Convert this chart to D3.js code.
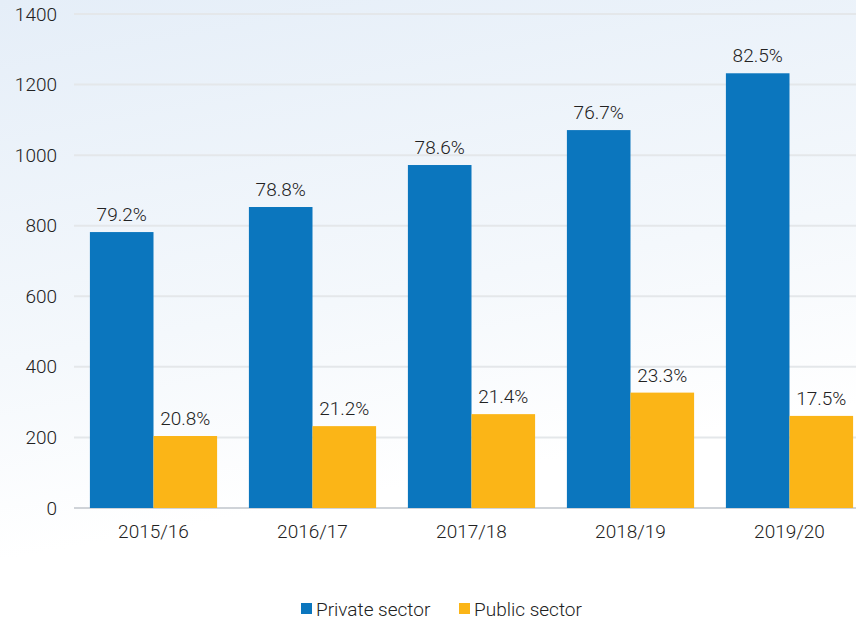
<!DOCTYPE html>
<html>
<head>
<meta charset="utf-8">
<script src="https://cdn.jsdelivr.net/npm/d3@7"></script>
<style>
  body { margin: 0; background: #fff; }
  svg { display: block; font-family: Roboto, "Open Sans", sans-serif; font-weight: 300; }
</style>
</head>
<body>
<svg width="856" height="621"></svg>
<script>
const years = ["2015/16", "2016/17", "2017/18", "2018/19", "2019/20"];
const privateSector = [782, 853, 972, 1071, 1232];
const publicSector = [204, 232, 266, 327, 261];
const privateShare = ["79.2%", "78.8%", "78.6%", "76.7%", "82.5%"];
const publicShare = ["20.8%", "21.2%", "21.4%", "23.3%", "17.5%"];
const yTicks = [0, 200, 400, 600, 800, 1000, 1200, 1400];
const seriesNames = ["Private sector", "Public sector"];

const colors = ["#0b76be", "#fbb517"];
const fontSize = 19;
const textColor = "#222";

const svg = d3.select("svg");
const width = 856, height = 621;

// background gradient
const defs = svg.append("defs");
const grad = defs.append("linearGradient")
  .attr("id", "bg")
  .attr("x1", "0").attr("y1", "0").attr("x2", "0.25").attr("y2", "1");
grad.append("stop").attr("offset", "0%").attr("stop-color", "#e5eef8");
grad.append("stop").attr("offset", "55%").attr("stop-color", "#f4f8fc");
grad.append("stop").attr("offset", "85%").attr("stop-color", "#ffffff");
svg.append("rect").attr("width", width).attr("height", height).attr("fill", "url(#bg)");

const plotLeft = 74, plotTop = 14, plotBottom = 508;
const x = d3.scaleBand().domain(years).range([plotLeft, plotLeft + 5 * 159]).paddingInner(0.2).paddingOuter(0.1);
const x1 = d3.scaleBand().domain([0, 1]).range([0, x.bandwidth()]);
const y = d3.scaleLinear().domain([0, 1400]).range([plotBottom, plotTop]);

// grid
svg.append("g")
  .selectAll("line")
  .data(yTicks)
  .join("line")
  .attr("x1", plotLeft).attr("x2", width)
  .attr("y1", d => y(d)).attr("y2", d => y(d))
  .attr("stroke", d => d === 0 ? "#cfd3d8" : "#e4e7ea")
  .attr("stroke-width", 2);

const yAxis = svg.append("g")
  .attr("transform", `translate(${plotLeft - 17},0)`)
  .call(d3.axisLeft(y).tickValues(yTicks).tickFormat(d3.format("d")).tickSize(0).tickPadding(0))
  .attr("font-family", null)
  .attr("font-size", fontSize);
yAxis.select(".domain").remove();
yAxis.selectAll("text").attr("fill", textColor);

const xAxis = svg.append("g")
  .attr("transform", `translate(0,${plotBottom})`)
  .call(d3.axisBottom(x).tickSize(0).tickPadding(17))
  .attr("font-family", null)
  .attr("font-size", fontSize);
xAxis.select(".domain").remove();
xAxis.selectAll("text").attr("fill", textColor);

const rows = years.map((yr, i) => ({
  year: yr,
  vals: [privateSector[i], publicSector[i]],
  labels: [privateShare[i], publicShare[i]]
}));

const group = svg.append("g")
  .selectAll("g")
  .data(rows)
  .join("g")
  .attr("transform", d => `translate(${x(d.year)},0)`);

group.selectAll("rect")
  .data(d => d.vals.map((v, k) => ({ v, k })))
  .join("rect")
  .attr("x", d => x1(d.k))
  .attr("y", d => y(d.v))
  .attr("width", x1.bandwidth())
  .attr("height", d => plotBottom - y(d.v))
  .attr("fill", d => colors[d.k]);

group.selectAll("text")
  .data(d => d.vals.map((v, k) => ({ v, k, label: d.labels[k] })))
  .join("text")
  .attr("x", d => x1(d.k) + x1.bandwidth() / 2)
  .attr("y", d => y(d.v) - 11)
  .attr("text-anchor", "middle")
  .attr("font-size", fontSize)
  .attr("fill", textColor)
  .text(d => d.label);

// legend
const legend = svg.append("g").attr("font-size", fontSize).attr("fill", textColor);
const legendX = [301, 459];
seriesNames.forEach((name, k) => {
  legend.append("rect")
    .attr("x", legendX[k]).attr("y", 603)
    .attr("width", 11).attr("height", 11)
    .attr("fill", colors[k]);
  legend.append("text")
    .attr("x", legendX[k] + 15).attr("y", 616)
    .text(name);
});
</script>
</body>
</html>
